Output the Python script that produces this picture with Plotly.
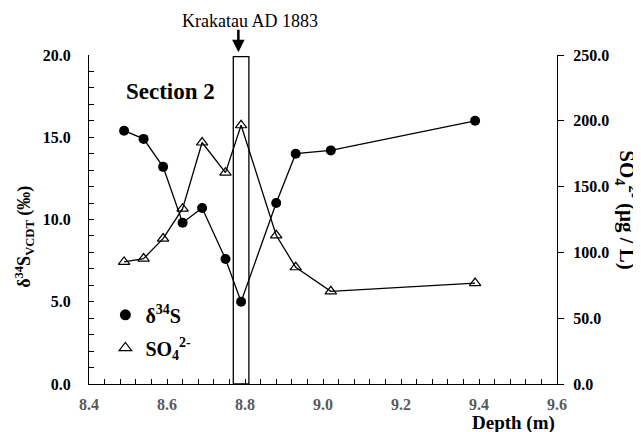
import plotly.graph_objects as go

# Data
depth = [8.49, 8.54, 8.59, 8.64, 8.69, 8.75, 8.79, 8.88, 8.93, 9.02, 9.39]
d34S = [15.4, 14.9, 13.2, 9.8, 10.7, 7.6, 5.0, 11.0, 14.0, 14.2, 16.0]
so4 = [92.8, 95.3, 110.5, 133.2, 183.5, 160.6, 196.6, 113.0, 88.7, 70.4, 76.7]

x_ticks = [8.4, 8.6, 8.8, 9.0, 9.2, 9.4, 9.6]
y1_ticks = [0, 5, 10, 15, 20]
y2_ticks = [0, 50, 100, 150, 200, 250]

event_box = [8.77, 8.81, 0, 19.9]  # x0, x1, y0, y1
event_depth = 8.783
event_label = "Krakatau AD 1883"

FONT = "Liberation Serif, Times New Roman, serif"

fig = go.Figure()

fig.add_trace(go.Scatter(
    x=depth, y=d34S, mode="lines+markers", yaxis="y", showlegend=False,
    line=dict(color="black", width=1.3),
    marker=dict(symbol="circle", size=10, color="black"),
))
fig.add_trace(go.Scatter(
    x=depth, y=so4, mode="lines+markers", yaxis="y2", showlegend=False,
    line=dict(color="black", width=1.3),
    marker=dict(symbol="triangle-up-open", size=10, color="black", line=dict(width=1.2)),
))
# legend entries (markers only)
fig.add_trace(go.Scatter(
    x=[None], y=[None], mode="markers", name="<b>δ<sup>34</sup>S</b>", legendgroup="a",
    marker=dict(symbol="circle", size=11, color="black"),
))
fig.add_trace(go.Scatter(
    x=[None], y=[None], mode="markers", name="<b>SO<sub>4</sub><sup>2-</sup></b>", legendgroup="b",
    marker=dict(symbol="triangle-up-open", size=11, color="black", line=dict(width=1.2)),
))

fig.add_shape(type="rect", xref="x", yref="y",
              x0=event_box[0], x1=event_box[1], y0=event_box[2], y1=event_box[3],
              line=dict(color="black", width=1.3), fillcolor="rgba(0,0,0,0)")

fig.add_annotation(x=event_depth, y=1.008, xref="x", yref="paper", text="", showarrow=True,
                   ax=0, ay=-24, arrowhead=2, arrowsize=1, arrowwidth=2.5, arrowcolor="black")
fig.add_annotation(x=0.344, y=1.103, xref="paper", yref="paper", text=event_label,
                   showarrow=False, font=dict(family=FONT, size=18, color="black"),
                   xanchor="center", yanchor="middle")
fig.add_annotation(x=0.175, y=0.888, xref="paper", yref="paper", text="<b>Section 2</b>",
                   showarrow=False, font=dict(family=FONT, size=23, color="black"),
                   xanchor="center", yanchor="middle")
# axis titles
fig.add_annotation(x=-0.137, y=0.447, xref="paper", yref="paper",
                   text="<b>δ<sup>34</sup>S<sub>VCDT</sub> (‰)</b>", textangle=-90,
                   showarrow=False, font=dict(family=FONT, size=18, color="black"),
                   xanchor="center", yanchor="middle")
fig.add_annotation(x=1.149, y=0.529, xref="paper", yref="paper",
                   text="<b>SO<sub>4</sub><sup>2-</sup> (μg / L)</b>", textangle=90,
                   showarrow=False, font=dict(family=FONT, size=21, color="black"),
                   xanchor="center", yanchor="middle")
fig.add_annotation(x=1.0, y=-0.118, xref="paper", yref="paper",
                   text="<b>Depth (m)</b>",
                   showarrow=False, font=dict(family=FONT, size=19, color="black"),
                   xanchor="right", yanchor="middle")

fig.update_layout(
    width=633, height=424,
    margin=dict(l=81, r=84, t=47, b=48),
    paper_bgcolor="white", plot_bgcolor="white",
    font=dict(family=FONT, color="black"),
    showlegend=True,
    legend=dict(x=0.035, y=0.16, xanchor="left", yanchor="middle",
                font=dict(family=FONT, size=20, color="black"),
                bgcolor="rgba(0,0,0,0)", tracegroupgap=4, itemwidth=30),
    xaxis=dict(range=[8.4, 9.6], tickvals=x_ticks, ticktext=[f"{v:.1f}" for v in x_ticks],
               showgrid=False, zeroline=False, showline=True, linecolor="black", linewidth=1.3,
               ticks="inside", ticklen=5, tickcolor="black", tickwidth=1.2,
               minor=dict(dtick=0.04, ticks="inside", ticklen=5, tickcolor="black", tickwidth=1.2, showgrid=False),
               tickfont=dict(family=FONT, size=16, color="#595959", weight="bold"),
               ticklabelstandoff=6),
    yaxis=dict(range=[0, 20], tickvals=y1_ticks, tickformat=".1f",
               showgrid=False, zeroline=False, showline=True, linecolor="black", linewidth=1.3,
               ticks="inside", ticklen=5, tickcolor="black", tickwidth=1.2,
               minor=dict(dtick=1, ticks="inside", ticklen=5, tickcolor="black", tickwidth=1.2, showgrid=False),
               tickfont=dict(family=FONT, size=16, color="black", weight="bold"),
               ticklabelstandoff=14),
    yaxis2=dict(range=[0, 250], tickvals=y2_ticks, tickformat=".1f", overlaying="y", side="right",
                showgrid=False, zeroline=False, showline=True, linecolor="black", linewidth=1.3,
                ticks="outside", ticklen=6, tickcolor="black", tickwidth=1.2,
                tickfont=dict(family=FONT, size=16, color="black", weight="bold"),
                ticklabelstandoff=6),
)

fig.write_html("out.html")
